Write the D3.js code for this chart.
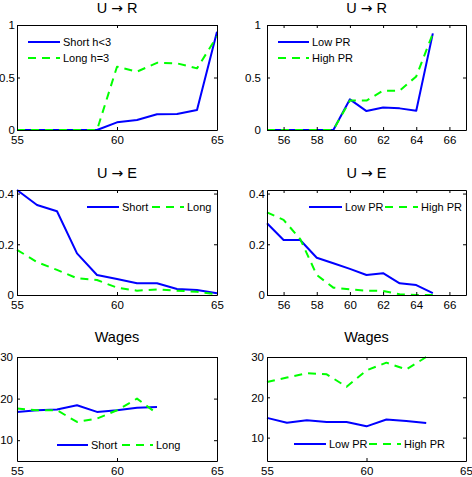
<!DOCTYPE html>
<html><head><meta charset="utf-8">
<script src="https://cdn.jsdelivr.net/npm/d3@7"></script>
<style>
html,body{margin:0;padding:0;background:#fff;}
svg{display:block;font-family:"Liberation Sans",Arial,Helvetica,sans-serif;}
</style></head>
<body>
<svg id="chart" width="472" height="477"></svg>
<script>
// ---- data ----
const ages = [55,56,57,58,59,60,61,62,63,64,65];
const urShort = [0,0,0,0,0,0.073,0.095,0.15,0.152,0.19,0.936];
const urLong  = [0,0,0,0,0,0.603,0.556,0.64,0.635,0.587,0.89];
const urLowPR  = [0,0,0,0,0,0.292,0.18,0.215,0.206,0.184,0.92];
const urHighPR = [0,0,0,0,0,0.28,0.28,0.375,0.375,0.51,0.92];
const ueShort = [0.414,0.355,0.33,0.164,0.079,0.063,0.046,0.046,0.024,0.02,0.007];
const ueLong  = [0.178,0.13,0.099,0.066,0.059,0.029,0.017,0.022,0.017,0.013,0.003];
const ueLowPR  = [0.283,0.217,0.217,0.147,0.125,0.103,0.079,0.086,0.046,0.039,0.007];
const ueHighPR = [0.326,0.296,0.221,0.079,0.029,0.022,0.017,0.016,0.003,0,0];
const wageAgesHorizon = [55,56,57,58,59,60,61,62];
const wShort = [16.8,17.2,17.4,18.4,16.8,17.2,17.8,18.0];
const wLong  = [17.6,17.2,17.2,14.4,15.2,17.2,20.0,16.4];
const wageAgesPR = [55,56,57,58,59,60,61,62,63];
const wLowPR  = [14.9,13.7,14.3,13.9,13.9,12.8,14.5,14.1,13.6];
const wHighPR = [23.8,24.9,26.0,25.7,22.6,26.7,28.6,26.9,30.0];

const xTicksA = [55,60,65];
const xTicksB = [56,58,60,62,64,66];
const yTicksUR = [0,0.5,1];
const yTicksUE = [0,0.2,0.4];
const yTicksW = [10,20,30];
const titles = [["U","\u2192","R"],["U","\u2192","R"],["U","\u2192","E"],["U","\u2192","E"],["Wages"],["Wages"]];
const namesHorizon = [["Short h<3","Long h=3"],["Short","Long"],["Short","Long"]];
const namesPR = ["Low PR","High PR"];

const BLUE = "#0000ff", GREEN = "#00ff00";

const svg = d3.select("#chart");

// panel layout: [left, right, top, bottom]
const panels = [
  {box:[17,217,25,130], xd:[55,65], yd:[0,1], xt:xTicksA, yt:yTicksUR,
   x1:ages, s1:urShort, x2:ages, s2:urLong, title:titles[0], tOff:12, names:namesHorizon[0],
   legend:{type:"v", lx:28, len:32, y:[42,58]}, ylGap:2},
  {box:[267,466,25,130], xd:[55,67], yd:[0,1], xt:xTicksB, yt:yTicksUR,
   x1:ages, s1:urLowPR, x2:ages, s2:urHighPR, title:titles[1], tOff:12, names:namesPR,
   legend:{type:"v", lx:278, len:31, y:[42,58]}, ylGap:6},
  {box:[17,217,190,295], xd:[55,65], yd:[0,0.414], xt:xTicksA, yt:yTicksUE,
   x1:ages, s1:ueShort, x2:ages, s2:ueLong, title:titles[2], tOff:12, names:namesHorizon[1],
   legend:{type:"h", pos:[87,152], len:32, y:207}, ylGap:3},
  {box:[267,466,190,295], xd:[55,67], yd:[0,0.414], xt:xTicksB, yt:yTicksUE,
   x1:ages, s1:ueLowPR, x2:ages, s2:ueHighPR, title:titles[3], tOff:12, names:namesPR,
   legend:{type:"h", pos:[309,385], len:33, y:207}, ylGap:2},
  {box:[17,217,357,461], xd:[55,65], yd:[5,30], xt:xTicksA, yt:yTicksW,
   x1:wageAgesHorizon, s1:wShort, x2:wageAgesHorizon, s2:wLong, title:titles[4], tOff:15, names:namesHorizon[2],
   legend:{type:"h", pos:[57,122], len:31, y:445}, ylGap:4},
  {box:[267,466,357,461], xd:[55,65], yd:[4.2,30], xt:xTicksA, yt:yTicksW,
   x1:wageAgesPR, s1:wLowPR, x2:wageAgesPR, s2:wHighPR, title:titles[5], tOff:15, names:namesPR,
   legend:{type:"h", pos:[294,369], len:32, y:444}, ylGap:3}
];

panels.forEach(p => {
  const [L,R,T,B] = p.box;
  const x = d3.scaleLinear().domain(p.xd).range([L,R]);
  const y = d3.scaleLinear().domain(p.yd).range([B,T]);
  const g = svg.append("g");

  // title
  const tt = g.append("text").attr("x",(L+R)/2).attr("y",T-p.tOff)
    .attr("text-anchor","middle").attr("font-size",14.5).attr("fill","#000");
  if (p.title.length === 3) {
    tt.append("tspan").text(p.title[0] + " ");
    tt.append("tspan").attr("font-family","'DejaVu Sans',sans-serif").attr("font-size",14).text(p.title[1]);
    tt.append("tspan").text(" " + p.title[2]);
  } else {
    tt.text(p.title[0]);
  }

  // lines
  const line = d3.line().x(d=>x(d[0])).y(d=>y(d[1]));
  g.append("path").datum(p.x1.map((a,i)=>[a,p.s1[i]])).attr("d",line)
    .attr("fill","none").attr("stroke",BLUE).attr("stroke-width",2).attr("stroke-linejoin","round");
  g.append("path").datum(p.x2.map((a,i)=>[a,p.s2[i]])).attr("d",line)
    .attr("fill","none").attr("stroke",GREEN).attr("stroke-width",2).attr("stroke-dasharray","8,6").attr("stroke-linejoin","round");

  // axes frame with inward ticks (all four sides)
  const tl = 3;
  const axB = d3.axisBottom(x).tickValues(p.xt).tickSizeInner(-tl).tickSizeOuter(0).tickPadding(6);
  const axT = d3.axisTop(x).tickValues(p.xt).tickSizeInner(-tl).tickSizeOuter(0).tickFormat("");
  const axL = d3.axisLeft(y).tickValues(p.yt).tickSizeInner(-tl).tickSizeOuter(0).tickPadding(p.ylGap).tickFormat(d=>String(d));
  const axR = d3.axisRight(y).tickValues(p.yt).tickSizeInner(-tl).tickSizeOuter(0).tickFormat("");
  const gb = g.append("g").attr("transform",`translate(0,${B})`).call(axB);
  const gt = g.append("g").attr("transform",`translate(0,${T})`).call(axT);
  const gl = g.append("g").attr("transform",`translate(${L},0)`).call(axL);
  const gr = g.append("g").attr("transform",`translate(${R},0)`).call(axR);
  [gb,gt,gl,gr].forEach(a=>{
    a.select(".domain").attr("stroke","#000");
    a.selectAll(".tick line").attr("stroke","#000");
    a.selectAll("text").attr("font-size",11.5).attr("fill","#000")
      .attr("font-family","'Liberation Sans',Arial,sans-serif");
  });
  gb.selectAll(".tick text").attr("dy","0.71em");
  gl.selectAll(".tick text").attr("dy","0.33em");

  // legend
  const lg = p.legend;
  const colors = [BLUE,GREEN], dashes=[null,"8,6"];
  if (lg.type === "v") {
    lg.y.forEach((yy,i)=>{
      g.append("line").attr("x1",lg.lx).attr("x2",lg.lx+lg.len).attr("y1",yy).attr("y2",yy)
        .attr("stroke",colors[i]).attr("stroke-width",2).attr("stroke-dasharray",dashes[i]);
      g.append("text").attr("x",lg.lx+lg.len+3).attr("y",yy).attr("dy","0.35em")
        .attr("font-size",11).attr("fill","#000").text(p.names[i]);
    });
  } else {
    lg.pos.forEach((xx,i)=>{
      g.append("line").attr("x1",xx).attr("x2",xx+lg.len).attr("y1",lg.y).attr("y2",lg.y)
        .attr("stroke",colors[i]).attr("stroke-width",2).attr("stroke-dasharray",dashes[i]);
      g.append("text").attr("x",xx+lg.len+3).attr("y",lg.y).attr("dy","0.35em")
        .attr("font-size",11).attr("fill","#000").text(p.names[i]);
    });
  }
});
</script>
</body></html>
